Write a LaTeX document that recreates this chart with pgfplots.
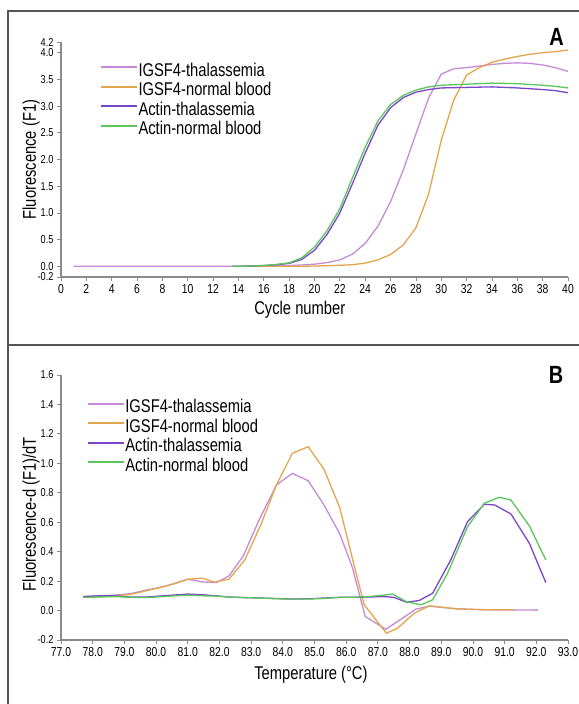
\documentclass[border=0pt]{standalone}
\usepackage{fontspec}
\setmainfont{Liberation Sans}[FakeStretch=0.8]
\usepackage{pgfplots}
\pgfplotsset{compat=1.18}
\definecolor{clp}{HTML}{C58BD6}
\definecolor{cor}{HTML}{E3A54D}
\definecolor{cdp}{HTML}{7B45C9}
\definecolor{cgr}{HTML}{5BC65B}
\definecolor{caxis}{HTML}{8A8A8A}
\definecolor{cframe}{HTML}{555555}

\pgfplotsset{
  panel/.style={
    scale only axis, anchor=south west,
    axis lines=left, axis line style={-, caxis, line width=1.4bp},
    tick align=outside, major tick length=4bp,
    tick style={caxis, line width=0.8bp},
    /pgf/number format/assume math mode=true,
    xticklabel style={font=\fontsize{13}{13}\selectfont},
    yticklabel style={font=\fontsize{11.5}{11.5}\selectfont,
      /pgf/number format/.cd, fixed, fixed zerofill, precision=1},
    label style={font=\fontsize{18.5}{18.5}\selectfont},
    xlabel style={anchor=center},
    ylabel style={anchor=center, rotate=0},
    legend cell align=left,
    legend image code/.code={\path (0bp,0bp);
      \draw[##1, line width=2bp] (0bp,5.5bp) -- (36bp,5.5bp);},
    every axis plot/.append style={line width=1.3bp, mark=none},
  },
  leg/.style={draw=none, fill=none, inner sep=0pt, outer sep=0pt,
    font=\fontsize{18.5}{18.5}\selectfont,
    nodes={inner sep=0.5bp, text height=13bp, text depth=5.5bp},
    row sep=0pt},
}

\begin{document}
\begin{tikzpicture}
\useasboundingbox (0,0) rectangle (579bp,-704bp);
\draw[cframe, line width=1.5bp] (8bp,-704bp) -- (8bp,-11bp) -- (579bp,-11bp);
\draw[cframe, line width=1.8bp] (8bp,-345bp) -- (579bp,-345bp);

% panel A: amplification curves
\begin{axis}[panel,
  at={(61bp,-277bp)}, width=507bp, height=235bp,
  xmin=0, xmax=40, ymin=-0.2, ymax=4.2,
  xtick={0,2,...,40},
  ytick={-0.2,0,0.5,1,1.5,2,2.5,3,3.5,4,4.2},
  xlabel={Cycle number},
  ylabel={Fluorescence (F1)},
  xlabel style={at={(axis description cs:0.471,-0.14)}},
  ylabel style={at={(axis description cs:-0.059,0.5)}},
  legend style={leg, at={(axis description cs:0.077,0.911)}, anchor=north west},
]
\addplot[clp] coordinates {
  (1,0) (5,0) (10,0) (14,0) (16,0.005) (18,0.015) (19,0.025) (20,0.04)
  (21,0.07) (22,0.12) (23,0.23) (24,0.43) (25,0.75) (26,1.21) (27,1.8)
  (28,2.48) (29,3.15) (30,3.6) (31,3.7) (32,3.72) (33,3.75) (34,3.78)
  (35,3.8) (36,3.81) (37,3.8) (38,3.77) (39,3.72) (40,3.65)
};
\addplot[cor] coordinates {
  (15,0) (18,0) (20,0.005) (22,0.02) (23,0.03) (24,0.06) (25,0.12)
  (26,0.22) (27,0.4) (28,0.72) (29,1.35) (30,2.36) (31,3.12) (32,3.58)
  (33,3.72) (34,3.82) (35,3.88) (36,3.93) (37,3.97) (38,4.0) (39,4.02) (40,4.05)
};
\addplot[cdp] coordinates {
  (13.5,0) (15,0.005) (16,0.015) (17,0.03) (18,0.055) (19,0.13) (20,0.3)
  (21,0.6) (22,1.0) (23,1.55) (24,2.12) (25,2.64) (26,2.97) (27,3.16)
  (28,3.26) (29,3.31) (30,3.34) (32,3.35) (34,3.36) (36,3.34) (38,3.31)
  (39,3.29) (40,3.25)
};
\addplot[cgr] coordinates {
  (13.5,0) (15,0.005) (16,0.015) (17,0.035) (18,0.065) (19,0.16) (20,0.36)
  (21,0.67) (22,1.08) (23,1.66) (24,2.23) (25,2.72) (26,3.03) (27,3.2)
  (28,3.3) (29,3.36) (30,3.39) (32,3.41) (34,3.43) (36,3.42) (38,3.39)
  (39,3.37) (40,3.34)
};
\legend{IGSF4-thalassemia, IGSF4-normal blood, Actin-thalassemia, Actin-normal blood}
\end{axis}
\node[font=\bfseries\fontsize{25}{25}\selectfont] at (556.5bp,-37bp) {A};

% panel B: melting curves
\begin{axis}[panel,
  at={(61bp,-640bp)}, width=507bp, height=265bp,
  xmin=77, xmax=93, ymin=-0.2, ymax=1.6,
  xtick={77,78,...,93},
  ytick={-0.2,0,0.2,...,1.6},
  xticklabel style={/pgf/number format/.cd, fixed, fixed zerofill, precision=1},
  xlabel={Temperature (°C)},
  ylabel={Fluorescence-d (F1)/dT},
  xlabel style={at={(axis description cs:0.493,-0.132)}},
  ylabel style={at={(axis description cs:-0.059,0.475)}},
  legend style={leg, at={(axis description cs:0.051,0.908)}, anchor=north west},
]
\addplot[clp] coordinates {
  (77.7,0.095) (78.2,0.1) (78.7,0.105) (79.2,0.115) (79.7,0.14) (80.2,0.16)
  (80.6,0.185) (81.0,0.213) (81.45,0.195) (81.9,0.19) (82.3,0.235)
  (82.75,0.37) (83.25,0.615) (83.8,0.853) (84.3,0.932) (84.8,0.882)
  (85.3,0.717) (85.8,0.52) (86.2,0.29) (86.6,-0.04) (87.25,-0.127)
  (87.7,-0.063) (88.2,0.01) (88.65,0.03) (89.1,0.02) (89.5,0.012)
  (90.0,0.008) (90.5,0.005) (91.3,0.004) (92.05,0.003)
};
\addplot[cor] coordinates {
  (77.7,0.09) (78.2,0.095) (78.7,0.1) (79.2,0.11) (79.5,0.125) (80.0,0.15)
  (80.45,0.174) (81.0,0.213) (81.45,0.22) (81.85,0.193) (82.3,0.213)
  (82.8,0.344) (83.3,0.58) (83.8,0.853) (84.3,1.068) (84.8,1.113)
  (85.3,0.96) (85.8,0.697) (86.2,0.35) (86.57,0.039) (87.27,-0.154)
  (87.62,-0.12) (88.15,-0.018) (88.62,0.032) (89.04,0.022) (89.46,0.012)
  (90.4,0.005) (91.3,0.005)
};
\addplot[cdp] coordinates {
  (77.7,0.095) (78.2,0.1) (78.7,0.1) (79.2,0.092) (79.7,0.092) (80.2,0.1)
  (80.6,0.106) (81.0,0.112) (81.5,0.107) (81.9,0.1) (82.3,0.092)
  (82.8,0.088) (83.3,0.085) (83.8,0.082) (84.3,0.078) (84.8,0.08)
  (85.3,0.085) (85.8,0.09) (86.2,0.09) (86.7,0.092) (87.2,0.095)
  (87.5,0.09) (87.9,0.057) (88.3,0.068) (88.73,0.118) (89.3,0.344)
  (89.83,0.604) (90.36,0.722) (90.69,0.717) (91.2,0.656) (91.78,0.457)
  (92.3,0.19)
};
\addplot[cgr] coordinates {
  (77.7,0.09) (78.2,0.092) (78.7,0.095) (79.2,0.09) (79.7,0.088) (80.2,0.095)
  (80.6,0.1) (81.0,0.105) (81.5,0.1) (81.9,0.098) (82.3,0.092) (82.8,0.088)
  (83.3,0.085) (83.8,0.08) (84.3,0.078) (84.8,0.078) (85.3,0.082)
  (85.8,0.09) (86.2,0.09) (86.7,0.095) (87.2,0.105) (87.46,0.113)
  (87.9,0.06) (88.36,0.039) (88.73,0.073) (89.2,0.254) (89.83,0.57)
  (90.36,0.729) (90.83,0.769) (91.2,0.751) (91.78,0.575) (92.3,0.344)
};
\legend{IGSF4-thalassemia, IGSF4-normal blood, Actin-thalassemia, Actin-normal blood}
\end{axis}
\node[font=\bfseries\fontsize{25}{25}\selectfont] at (556bp,-375bp) {B};
\end{tikzpicture}
\end{document}
